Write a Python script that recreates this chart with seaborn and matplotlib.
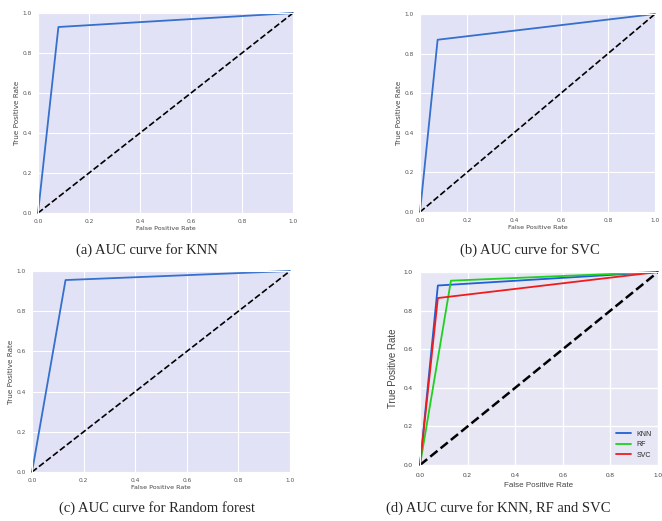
import matplotlib
matplotlib.use("Agg")
import matplotlib.pyplot as plt
import seaborn as sns

# ROC points
fpr_knn = [0.0, 0.08, 1.0]
tpr_knn = [0.0, 0.93, 1.0]

fpr_svc = [0.0, 0.075, 1.0]
tpr_svc = [0.0, 0.87, 1.0]

fpr_rf = [0.0, 0.13, 1.0]
tpr_rf = [0.0, 0.955, 1.0]

diag = [0.0, 1.0]
ticks = [0.0, 0.2, 0.4, 0.6, 0.8, 1.0]

captions = ["(a) AUC curve for KNN", "(b) AUC curve for SVC",
            "(c) AUC curve for Random forest", "(d) AUC curve for KNN, RF and SVC"]

sns.set_style("darkgrid")
W, H = 662, 521
fig = plt.figure(figsize=(W / 100, H / 100), dpi=100)


def px_axes(l, t, r, b, face):
    ax = fig.add_axes([l / W, 1 - b / H, (r - l) / W, (b - t) / H])
    ax.set_facecolor(face)
    return ax


def unclip(ax):
    for ln in ax.get_lines():
        ln.set_clip_on(False)


def single(ax, fx, ty):
    sns.lineplot(x=fx, y=ty, ax=ax, color="#3470cc", lw=1.3, sort=False, estimator=None)
    sns.lineplot(x=diag, y=diag, ax=ax, color="black", lw=1.2, linestyle="--", estimator=None)
    unclip(ax)
    ax.set_xlim(0, 1)
    ax.set_ylim(0, 1)
    ax.set_xticks(ticks)
    ax.set_yticks(ticks)
    ax.tick_params(labelsize=4.2, colors="#555555", pad=1)
    ax.set_xlabel("False Positive Rate", fontsize=4.6, color="#444444", labelpad=1)
    ax.set_ylabel("True Positive Rate", fontsize=5.2, color="#444444", labelpad=2)
    ax.grid(color="white", lw=0.8)


face = "#e2e2f6"
ax_a = px_axes(38, 13, 293, 213, face)
single(ax_a, fpr_knn, tpr_knn)
ax_b = px_axes(420, 14, 655, 212, face)
single(ax_b, fpr_svc, tpr_svc)
ax_c = px_axes(32, 271, 290, 472, face)
single(ax_c, fpr_rf, tpr_rf)

# combined panel
ax_d = px_axes(420, 272, 658, 465, "#e6e6f4")
sns.lineplot(x=[0.0, 0.075, 1.0], y=tpr_knn, ax=ax_d, color="#1f5fd8", lw=1.3,
             sort=False, estimator=None, label="KNN")
sns.lineplot(x=fpr_rf, y=tpr_rf, ax=ax_d, color="#20d020", lw=1.3,
             sort=False, estimator=None, label="RF")
sns.lineplot(x=fpr_svc, y=[0.0, 0.865, 1.0], ax=ax_d, color="#f01c1c", lw=1.3,
             sort=False, estimator=None, label="SVC")
sns.lineplot(x=diag, y=diag, ax=ax_d, color="black", lw=1.8, linestyle="--", estimator=None)
unclip(ax_d)
ax_d.set_xlim(0, 1)
ax_d.set_ylim(0, 1)
ax_d.set_xticks(ticks)
ax_d.set_yticks(ticks)
ax_d.tick_params(labelsize=4.6, colors="#444444", pad=2)
for lab in ax_d.get_xticklabels() + ax_d.get_yticklabels():
    lab.set_family("Liberation Sans")
ax_d.set_xlabel("False Positive Rate", fontsize=5.8, color="#444444", labelpad=3,
                family="Liberation Sans")
ax_d.set_ylabel("True Positive Rate", fontsize=7, color="#444444", labelpad=4,
                family="Liberation Sans")
ax_d.grid(color="white", lw=1.0)
ax_d.legend(loc="lower right", frameon=False, handlelength=2.2,
            prop={"family": "Liberation Sans", "size": 5})

# captions
cap_pos = [(147, 250), (530, 250), (157, 508), (498, 508)]
for text, (cx, cy) in zip(captions, cap_pos):
    fig.text(cx / W, 1 - cy / H, text, ha="center", va="center",
             fontsize=10.5, family="Liberation Serif")

fig.savefig("out.png", dpi=100)
